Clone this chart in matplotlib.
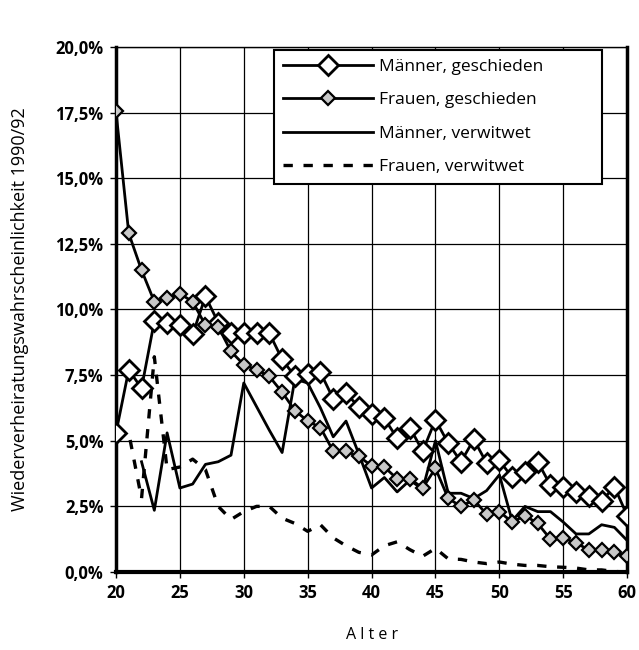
import matplotlib
matplotlib.use('Agg')
import matplotlib.pyplot as plt
from matplotlib.ticker import FuncFormatter, MultipleLocator

plt.rcParams['font.family'] = ['Open Sans', 'DejaVu Sans']

# Data (percent)
alter = list(range(20, 61))
alter_mv = list(range(22, 61))

maenner_gesch = [5.3, 7.7, 7.0, 9.55, 9.5, 9.4, 9.05, 10.5, 9.5, 9.1,
                 9.1, 9.1, 9.1, 8.1, 7.45, 7.55, 7.6, 6.6, 6.8, 6.3,
                 6.0, 5.85, 5.1, 5.5, 4.6, 5.8, 4.9, 4.2, 5.05, 4.15,
                 4.25, 3.6, 3.8, 4.2, 3.3, 3.25, 3.05, 2.9, 2.7, 3.25, 2.15]
frauen_gesch = [17.55, 12.9, 11.5, 10.3, 10.45, 10.6, 10.3, 9.4, 9.35, 8.4,
                7.9, 7.7, 7.45, 6.85, 6.15, 5.75, 5.5, 4.6, 4.6, 4.4,
                4.05, 4.0, 3.55, 3.55, 3.2, 3.95, 2.8, 2.5, 2.75, 2.2,
                2.3, 1.9, 2.15, 1.85, 1.25, 1.3, 1.1, 0.85, 0.85, 0.75, 0.6]
maenner_verw = [4.2, 2.35, 5.3, 3.2, 3.35, 4.1, 4.2, 4.45,
                7.2, 6.3, 5.4, 4.55, 7.35, 7.2, 6.25, 5.15, 5.75, 4.5,
                3.2, 3.6, 3.05, 3.5, 3.15, 5.0, 3.0, 3.0, 2.8, 3.1,
                3.7, 1.95, 2.5, 2.3, 2.3, 1.9, 1.45, 1.45, 1.8, 1.7, 1.2]
frauen_verw = [5.3, 5.3, 2.8, 8.2, 3.9, 4.0, 4.3, 3.9, 2.5, 2.0,
               2.3, 2.5, 2.5, 2.05, 1.85, 1.55, 1.8, 1.3, 1.0, 0.75,
               0.65, 1.0, 1.15, 0.85, 0.6, 0.9, 0.5, 0.48, 0.38, 0.32,
               0.38, 0.3, 0.25, 0.25, 0.2, 0.18, 0.15, 0.08, 0.08, 0.02, 0.0]

fig = plt.figure(figsize=(6.39, 6.5), dpi=100)
ax = fig.add_axes([0.1815, 0.12, 0.8, 0.8077])

ax.plot(alter, maenner_gesch, color='black', lw=2, marker='D', markersize=10,
        markerfacecolor='white', markeredgecolor='black', markeredgewidth=2,
        label='Männer, geschieden', zorder=4)
ax.plot(alter, frauen_gesch, color='black', lw=2, marker='D', markersize=7,
        markerfacecolor='#c8c8c8', markeredgecolor='black', markeredgewidth=1.6,
        label='Frauen, geschieden', zorder=5)
ax.plot(alter_mv, maenner_verw, color='black', lw=2,
        label='Männer, verwitwet', zorder=3)
ax.plot(alter, frauen_verw, color='black', lw=2.4, linestyle=(0, (2.8, 3.2)),
        label='Frauen, verwitwet', zorder=3)

ax.set_xlim(20, 60)
ax.set_ylim(0, 20)
ax.xaxis.set_major_locator(MultipleLocator(5))
ax.yaxis.set_major_locator(MultipleLocator(2.5))
ax.yaxis.set_major_formatter(FuncFormatter(lambda v, p: f'{v:.1f}%'.replace('.', ',')))
ax.grid(True, color='black', lw=0.9)
ax.set_axisbelow(True)

for side, w in [('left', 2.5), ('bottom', 3), ('right', 2.5), ('top', 1)]:
    ax.spines[side].set_linewidth(w)

ax.tick_params(axis='both', length=4, width=1, labelsize=12, pad=5)
for lab in ax.get_xticklabels() + ax.get_yticklabels():
    lab.set_fontweight('bold')

ax.set_ylabel('Wiederverheiratungswahrscheinlichkeit 1990/92', fontsize=13)
ax.yaxis.set_label_coords(-0.17, 0.5)
ax.set_xlabel('A l t e r', fontsize=11.5)
ax.xaxis.set_label_coords(0.5, -0.105)

leg = ax.legend(loc='upper left', bbox_to_anchor=(0.31, 0.7395, 0.64, 0.255),
                mode='expand', fontsize=12.5,
                handlelength=5.2, handletextpad=0.3, labelspacing=1.0,
                borderpad=0.5, numpoints=1, fancybox=False, framealpha=1,
                edgecolor='black', borderaxespad=0)
leg.get_frame().set_linewidth(1.5)

plt.savefig('out.png', dpi=100)
